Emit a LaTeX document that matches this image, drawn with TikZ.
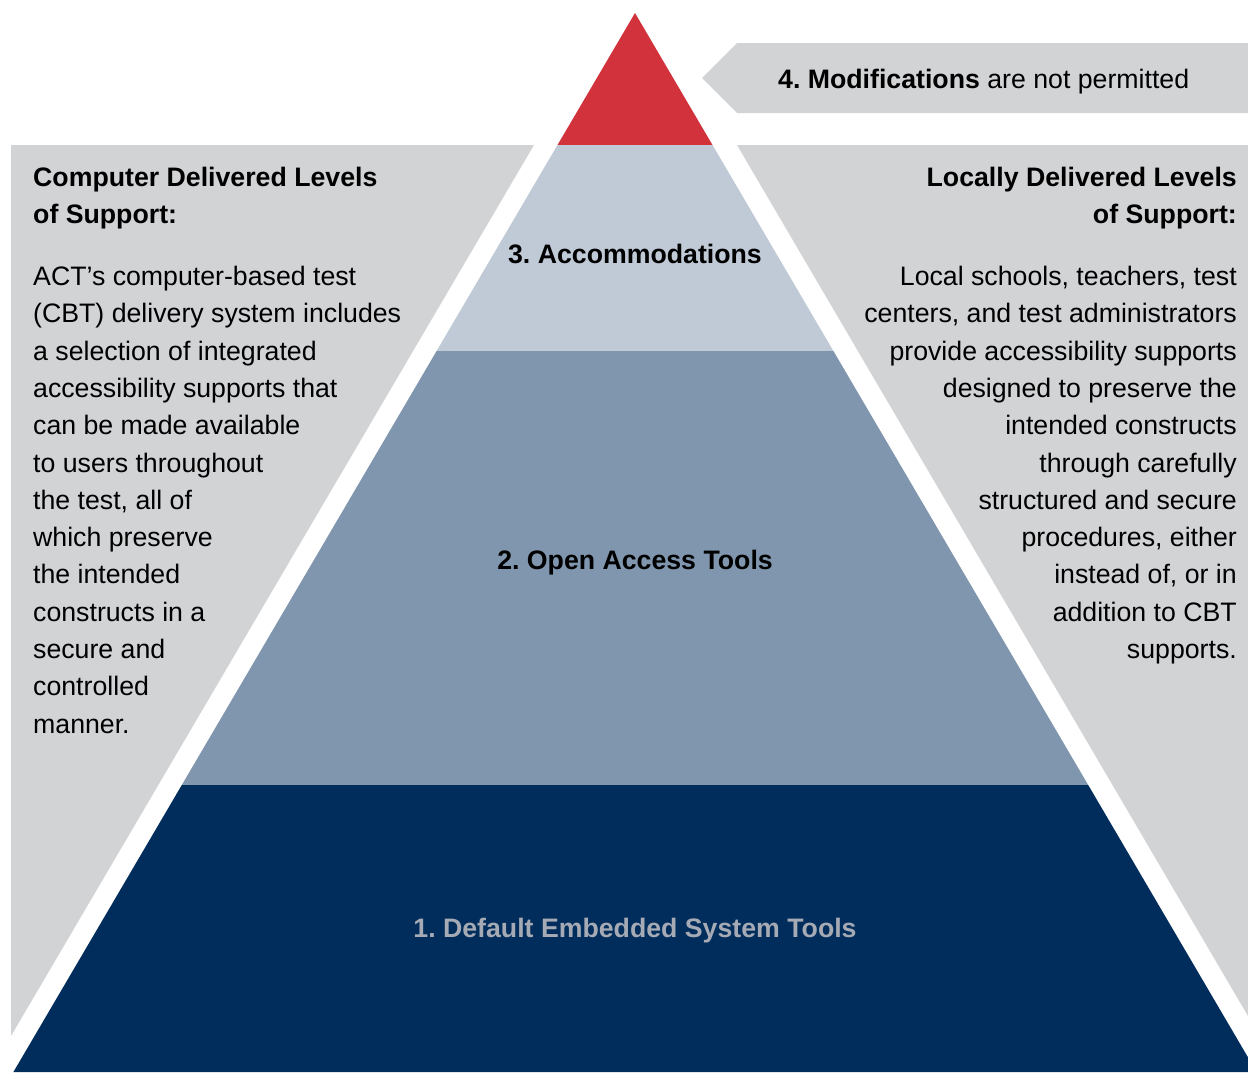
\documentclass[tikz,border=0pt]{standalone}
\usepackage{fontspec}
\setmainfont{Liberation Sans}
\usetikzlibrary{positioning}
\definecolor{apexred}{RGB}{209,50,60}
\definecolor{accomblue}{RGB}{192,202,214}
\definecolor{openblue}{RGB}{128,150,174}
\definecolor{basenavy}{RGB}{0,45,92}
\definecolor{panelgrey}{RGB}{210,211,213}
\definecolor{labelgrey}{RGB}{165,170,180}
\tikzstyle{every node}=[inner sep=0pt,font=\fontsize{26.7}{37.3}\selectfont\frenchspacing]
\tikzstyle{heading}=[font=\fontsize{26.7}{37}\selectfont\bfseries\frenchspacing]
\tikzstyle{level}=[anchor=base,font=\fontsize{26.7}{37.3}\selectfont\bfseries\frenchspacing]

\begin{document}
\begin{tikzpicture}[x=1pt,y=-1pt]
	\path[use as bounding box,clip] (0,0) rectangle (1248,1072);
	\fill[white] (0,0) rectangle (1248,1072);

	\fill[panelgrey] (11,145) -- (534,145) -- (11,1036) -- cycle;
	\fill[panelgrey] (737,145) -- (1248,145) -- (1248,1016) -- cycle;
	\fill[panelgrey] (702,78) -- (737,43) -- (1248,43) -- (1248,113) -- (737,113) -- cycle;

	\fill[apexred]   (635,13) -- (712.5,145) -- (557.5,145) -- cycle;
	\fill[accomblue] (557.5,145) -- (712.5,145) -- (833.4,351) -- (436.6,351) -- cycle;
	\fill[openblue]  (436.6,351) -- (833.4,351) -- (1088.2,785) -- (181.8,785) -- cycle;
	\fill[basenavy]  (181.8,785) -- (1088.2,785) -- (1256.6,1072) -- (13.4,1072) -- cycle;

	\node(modlabel)[anchor=base west] at (778,88.5) {\textbf{4. Modifications} are not permitted};
	\node(accomlabel)[level] at (635,263) {3. Accommodations};
	\node(openlabel)[level] at (635,569) {2. Open Access Tools};
	\node(defaultlabel)[level,text=labelgrey] at (635,937) {1. Default Embedded System Tools};

	\node(cbthead)[heading,anchor=north west,align=left] at (33,167)
		{Computer Delivered Levels\\of Support:};
	\node(cbtbody)[anchor=north west,align=left] at (33,266)
		{ACT’s computer-based test\\(CBT) delivery system includes\\a selection of integrated\\accessibility supports that\\can be made available\\to users throughout\\the test, all of\\which preserve\\the intended\\constructs in a\\secure and\\controlled\\manner.};

	\node(localhead)[heading,anchor=north east,align=right] at (1237,167)
		{Locally Delivered Levels\\of Support:};
	\node(localbody)[anchor=north east,align=right] at (1237,266)
		{Local schools, teachers, test\\centers, and test administrators\\provide accessibility supports\\designed to preserve the\\intended constructs\\through carefully\\structured and secure\\procedures, either\\instead of, or in\\addition to CBT\\supports.};
\end{tikzpicture}
\end{document}
